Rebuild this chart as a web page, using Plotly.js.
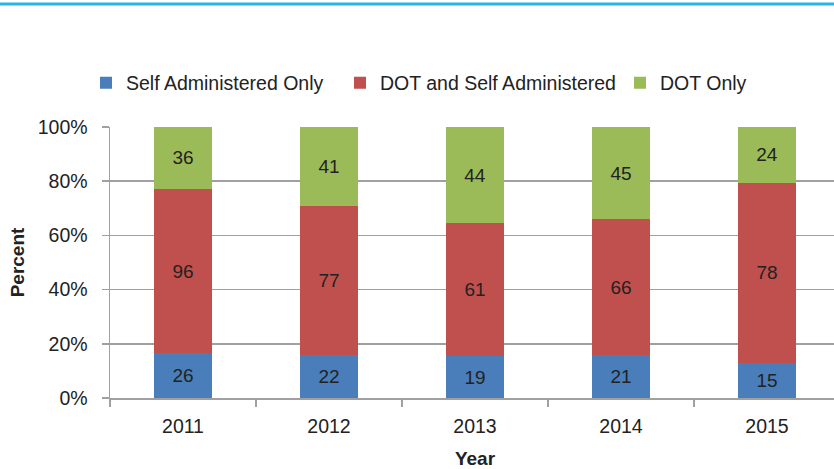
<!DOCTYPE html>
<html>
<head>
<meta charset="utf-8">
<script src="https://cdn.plot.ly/plotly-3.0.1.min.js"></script>
<style>
html,body{margin:0;padding:0;overflow:hidden;background:#fff;}
#chart{width:850px;height:469px;}
</style>
</head>
<body>
<div id="chart"></div>
<script>
const years = ['2011', '2012', '2013', '2014', '2015'];
const selfOnly = [26, 22, 19, 21, 15];
const dotAndSelf = [96, 77, 61, 66, 78];
const dotOnly = [36, 41, 44, 45, 24];
const seriesNames = ['Self Administered Only', 'DOT and Self Administered', 'DOT Only'];
const colors = ['#4A7EBB', '#C0504D', '#9BBB59'];

const FONT = 'Liberation Sans, Arial, sans-serif';
const FS = 19.5;

function mk(vals, i, leg) {
  return {
    type: 'bar', x: years, y: vals, name: seriesNames[i],
    marker: {color: colors[i], line: {width: 0}},
    text: vals.map(String), textposition: 'inside', insidetextanchor: 'middle',
    textangle: 0, constraintext: 'none',
    textfont: {family: FONT, size: 19, color: '#222'},
    hoverinfo: 'skip', legend: leg
  };
}
const traces = [mk(selfOnly, 0, 'legend'), mk(dotAndSelf, 1, 'legend2'), mk(dotOnly, 2, 'legend3')];

const L = 110, T = 127, W = 730, H = 271;
function px2x(p){ return (p - L) / W; }
function px2y(p){ return (T + H - p) / H; }
function leg(xpx) {
  return {x: px2x(xpx), y: px2y(83), xanchor: 'left', yanchor: 'middle', orientation: 'h',
    font: {family: FONT, size: FS, color: '#222'}, bgcolor: 'rgba(0,0,0,0)', borderwidth: 0};
}

const layout = {
  width: 850, height: 469,
  margin: {l: L, r: 850 - L - W, t: T, b: 469 - T - H},
  barmode: 'stack', barnorm: 'percent', bargap: 0.6,
  paper_bgcolor: '#fff', plot_bgcolor: '#fff',
  font: {family: FONT, size: FS, color: '#222'},
  showlegend: true,
  legend: leg(86), legend2: leg(340), legend3: leg(620),
  xaxis: {
    type: 'category', showgrid: false, showline: true, linecolor: '#A0A0A0', linewidth: 1.5,
    ticks: 'outside', tickson: 'boundaries', ticklen: 7, tickcolor: '#A0A0A0', tickwidth: 1.5,
    ticklabelstandoff: 10,
    tickfont: {family: FONT, size: FS, color: '#222'},
    title: {text: '<b>Year</b>', font: {family: FONT, size: 19, color: '#222'}, standoff: 16},
    zeroline: false, fixedrange: true
  },
  yaxis: {
    range: [0, 100], dtick: 20, ticksuffix: '%', showgrid: true, gridcolor: '#A0A0A0', gridwidth: 1.5,
    showline: true, linecolor: '#A0A0A0', linewidth: 1.5,
    ticks: 'outside', ticklen: 7, tickcolor: '#A0A0A0', tickwidth: 1.5,
    ticklabelstandoff: 10,
    tickfont: {family: FONT, size: FS, color: '#222'},
    title: {text: '<b>Percent</b>', font: {family: FONT, size: 19, color: '#222'}, standoff: 8},
    zeroline: false, fixedrange: true
  },
  shapes: [
    {type: 'line', xref: 'paper', yref: 'paper', x0: px2x(0), x1: px2x(850), y0: px2y(4), y1: px2y(4),
     line: {color: '#29B3E6', width: 3}, layer: 'above'}
  ]
};

Plotly.newPlot('chart', traces, layout, {displayModeBar: false, staticPlot: true});
</script>
</body>
</html>
